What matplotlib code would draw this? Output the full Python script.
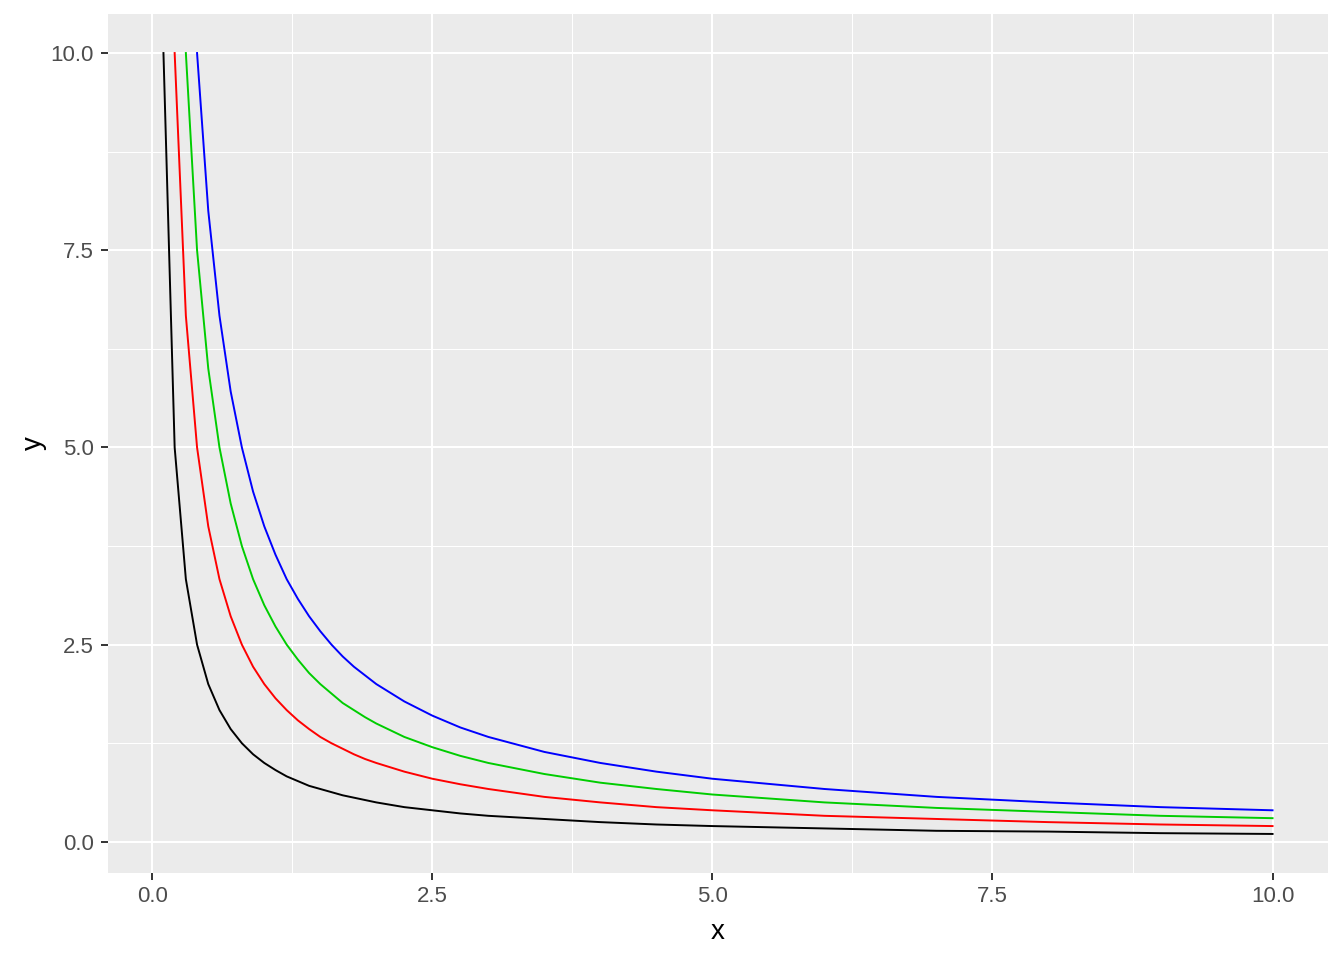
import matplotlib
matplotlib.use('Agg')
import matplotlib.pyplot as plt
import numpy as np

nan = np.nan

# x positions
x = [0.1, 0.2, 0.3, 0.4, 0.5, 0.6, 0.7, 0.8, 0.9, 1.0,
     1.1, 1.2, 1.3, 1.4, 1.5, 1.6, 1.7, 1.8, 1.9, 2.0,
     2.25, 2.5, 2.75, 3.0, 3.5, 4.0, 4.5, 5.0, 6.0, 7.0, 8.0, 9.0, 10.0]

# one list per curve (points above 10 are not drawn)
y_black = [10, 5, 3.33, 2.5, 2.0, 1.67, 1.43, 1.25, 1.11, 1.0,
           0.91, 0.83, 0.77, 0.71, 0.67, 0.63, 0.59, 0.56, 0.53, 0.5,
           0.44, 0.4, 0.36, 0.33, 0.29, 0.25, 0.22, 0.2, 0.17, 0.14, 0.13, 0.11, 0.1]
y_red = [nan, 10, 6.67, 5, 4, 3.33, 2.86, 2.5, 2.22, 2.0,
         1.82, 1.67, 1.54, 1.43, 1.33, 1.25, 1.18, 1.11, 1.05, 1.0,
         0.89, 0.8, 0.73, 0.67, 0.57, 0.5, 0.44, 0.4, 0.33, 0.29, 0.25, 0.22, 0.2]
y_green = [nan, nan, 10, 7.5, 6, 5, 4.29, 3.75, 3.33, 3.0,
           2.73, 2.5, 2.31, 2.14, 2.0, 1.88, 1.76, 1.67, 1.58, 1.5,
           1.33, 1.2, 1.09, 1.0, 0.86, 0.75, 0.67, 0.6, 0.5, 0.43, 0.38, 0.33, 0.3]
y_blue = [nan, nan, nan, 10, 8, 6.67, 5.71, 5.0, 4.44, 4.0,
          3.64, 3.33, 3.08, 2.86, 2.67, 2.5, 2.35, 2.22, 2.11, 2.0,
          1.78, 1.6, 1.45, 1.33, 1.14, 1.0, 0.89, 0.8, 0.67, 0.57, 0.5, 0.44, 0.4]

ticks = [0.0, 2.5, 5.0, 7.5, 10.0]
tick_labels = ['0.0', '2.5', '5.0', '7.5', '10.0']
minor = [1.25, 3.75, 6.25, 8.75]

plt.rcParams['font.family'] = ['Liberation Sans', 'DejaVu Sans']

fig = plt.figure(figsize=(13.44, 9.6), dpi=100)
ax = fig.add_axes([108/1344, 1 - 873/960, 1220/1344, 859/960])
ax.set_facecolor('#EBEBEB')
for s in ax.spines.values():
    s.set_visible(False)

# ggplot-like grid
for v in minor:
    ax.axvline(v, color='white', lw=0.75, zorder=0)
    ax.axhline(v, color='white', lw=0.75, zorder=0)
for v in ticks:
    ax.axvline(v, color='white', lw=1.5, zorder=0)
    ax.axhline(v, color='white', lw=1.5, zorder=0)

ax.plot(x, y_black, color='black', lw=1.4)
ax.plot(x, y_red, color='#FF0000', lw=1.4)
ax.plot(x, y_green, color='#00CD00', lw=1.4)
ax.plot(x, y_blue, color='#0000FF', lw=1.4)

ax.set_xlim(-0.395, 10.495)
ax.set_ylim(-0.395, 10.495)
ax.set_xticks(ticks)
ax.set_yticks(ticks)
ax.set_xticklabels(tick_labels)
ax.set_yticklabels(tick_labels)
ax.tick_params(colors='#333333', width=1.4, length=5, labelsize=16, labelcolor='#4D4D4D')
ax.tick_params(axis='x', pad=4)
ax.tick_params(axis='y', pad=5)
ax.set_xlabel('x', fontsize=20, labelpad=9)
ax.set_ylabel('y', fontsize=20, labelpad=3)

fig.savefig('out.png', dpi=100)
